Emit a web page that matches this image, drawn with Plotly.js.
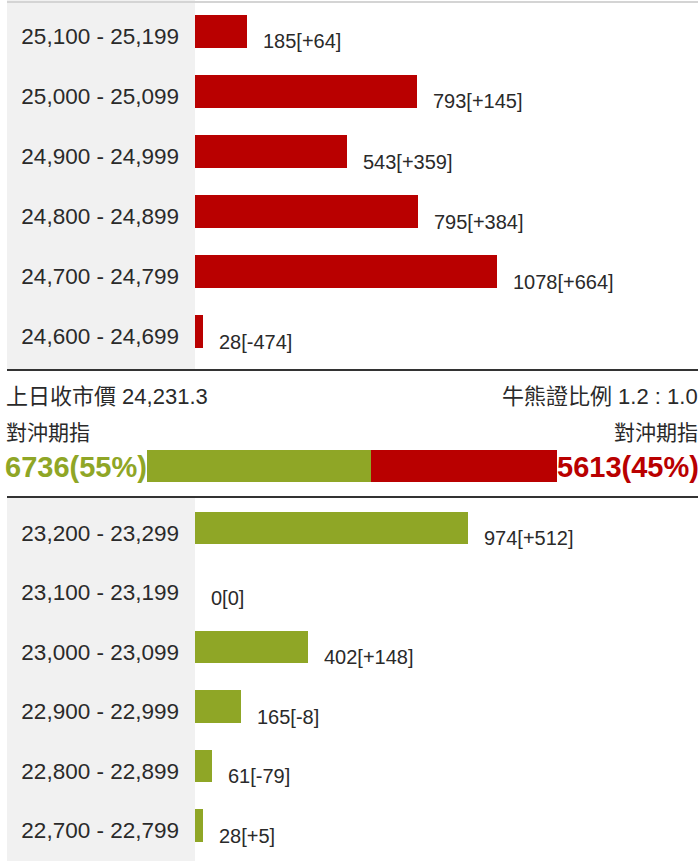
<!DOCTYPE html>
<html>
<head>
<meta charset="utf-8">
<script src="https://cdn.plot.ly/plotly-3.0.1.min.js"></script>
<style>html,body{margin:0;padding:0;background:#fff;}#chart{width:698px;height:861px;}</style>
</head>
<body>
<div id="chart"></div>
<script>
// ---- data ----
const topRanges = ['25,100 - 25,199','25,000 - 25,099','24,900 - 24,999','24,800 - 24,899','24,700 - 24,799','24,600 - 24,699'];
const topValues = [185, 793, 543, 795, 1078, 28];
const topChanges = [64, 145, 359, 384, 664, -474];

const bottomRanges = ['23,200 - 23,299','23,100 - 23,199','23,000 - 23,099','22,900 - 22,999','22,800 - 22,899','22,700 - 22,799'];
const bottomValues = [974, 0, 402, 165, 61, 28];
const bottomChanges = [512, 0, 148, -8, -79, 5];

const prevCloseLabel = '上日收市價';
const prevClose = '24,231.3';
const ratioLabel = '牛熊證比例';
const ratio = '1.2 : 1.0';
const hedgeLabel = '對沖期指';
const hedgeBull = [6736];
const hedgeBear = [5613];

// ---- styles ----
const W = 698, H = 861;
const RED = '#b90000', GREEN = '#8fa626';
const FONT = 'Arial, "Liberation Sans", "Noto Sans CJK TC", sans-serif';
const TXT = '#2a2a2a';
const px = v => v / W;
const py = v => 1 - v / H;
const SCALE = 0.28; // px per unit
const barRangeMax = (W - 195) / SCALE;

function fmt(v, c) {
  const s = c > 0 ? '+' + c : String(c);
  return v + '[' + s + ']';
}

const traces = [
  {type:'bar', orientation:'h', x: topValues, y: topRanges, xaxis:'x', yaxis:'y',
   marker:{color: RED}, width: 0.55, hoverinfo:'none'},
  {type:'bar', orientation:'h', x: bottomValues, y: bottomRanges, xaxis:'x2', yaxis:'y2',
   marker:{color: GREEN}, width: 0.55, hoverinfo:'none'},
  {type:'bar', orientation:'h', x: hedgeBull, y: [hedgeLabel], xaxis:'x3', yaxis:'y3',
   marker:{color: GREEN}, width: 1, hoverinfo:'none'},
  {type:'bar', orientation:'h', x: hedgeBear, y: [hedgeLabel], xaxis:'x3', yaxis:'y3',
   marker:{color: RED}, width: 1, hoverinfo:'none'}
];

const annotations = [];
topValues.forEach((v, i) => annotations.push({
  xref:'x', yref:'y', x: v, y: topRanges[i], text: fmt(v, topChanges[i]),
  showarrow:false, xanchor:'left', yanchor:'middle', xshift: 14, yshift: -10,
  font:{family: FONT, size: 20, color: TXT}
}));
bottomValues.forEach((v, i) => annotations.push({
  xref:'x2', yref:'y2', x: v, y: bottomRanges[i], text: fmt(v, bottomChanges[i]),
  showarrow:false, xanchor:'left', yanchor:'middle', xshift: 14, yshift: -10,
  font:{family: FONT, size: 20, color: TXT}
}));

const total = hedgeBull[0] + hedgeBear[0];
const pctBull = Math.round(hedgeBull[0] / total * 100);
const pctBear = 100 - pctBull;

annotations.push(
  {xref:'paper', yref:'paper', x: px(4), y: py(396), xanchor:'left', yanchor:'middle', showarrow:false,
   text: prevCloseLabel + ' ' + prevClose, font:{family: FONT, size: 22, color: TXT}},
  {xref:'paper', yref:'paper', x: px(700), y: py(396), xanchor:'right', yanchor:'middle', showarrow:false,
   text: ratioLabel + ' ' + ratio, font:{family: FONT, size: 22, color: TXT}},
  {xref:'paper', yref:'paper', x: px(4), y: py(432), xanchor:'left', yanchor:'middle', showarrow:false,
   text: hedgeLabel, font:{family: FONT, size: 21, color: TXT}},
  {xref:'paper', yref:'paper', x: px(700), y: py(432), xanchor:'right', yanchor:'middle', showarrow:false,
   text: hedgeLabel, font:{family: FONT, size: 21, color: TXT}},
  {xref:'x3', yref:'paper', x: 0, y: py(467), xanchor:'right', yanchor:'middle', showarrow:false, xshift: 2,
   text: '<b>' + hedgeBull[0] + '(' + pctBull + '%)</b>', font:{family: FONT, size: 29, color: GREEN}},
  {xref:'x3', yref:'paper', x: total, y: py(467), xanchor:'left', yanchor:'middle', showarrow:false, xshift: -2,
   text: '<b>' + hedgeBear[0] + '(' + pctBear + '%)</b>', font:{family: FONT, size: 29, color: RED}}
);

const shapes = [
  {type:'rect', xref:'paper', yref:'paper', x0: px(7), x1: px(195), y0: py(369), y1: py(0),
   fillcolor:'#f1f1f1', line:{width:0}, layer:'below'},
  {type:'rect', xref:'paper', yref:'paper', x0: px(7), x1: px(195), y0: py(861), y1: py(498),
   fillcolor:'#f1f1f1', line:{width:0}, layer:'below'},
  {type:'line', xref:'paper', yref:'paper', x0: px(7), x1: px(698), y0: py(2), y1: py(2),
   line:{color:'#d4d4d4', width:2}},
  {type:'line', xref:'paper', yref:'paper', x0: px(7), x1: px(698), y0: py(370), y1: py(370),
   line:{color:'#333333', width:2}},
  {type:'line', xref:'paper', yref:'paper', x0: px(7), x1: px(698), y0: py(497), y1: py(497),
   line:{color:'#333333', width:2}}
];

const hiddenX = {showgrid:false, zeroline:false, showline:false, showticklabels:false, ticks:'', fixedrange:true};
const catY = {showgrid:false, zeroline:false, showline:false, ticks:'', fixedrange:true,
  tickfont:{family: FONT, size: 22.5, color: TXT}, ticklabelstandoff: 15, ticklabelshift: -5};

const layout = {
  width: W, height: H,
  margin:{l:0, r:0, t:0, b:0, pad:0},
  paper_bgcolor:'#ffffff', plot_bgcolor:'rgba(0,0,0,0)',
  showlegend:false, barmode:'stack', bargap:0,
  font:{family: FONT, color: TXT},
  xaxis: Object.assign({}, hiddenX, {domain:[px(195), 1], range:[0, barRangeMax], anchor:'y'}),
  yaxis: Object.assign({}, catY, {domain:[py(361.5), py(1.5)], type:'category',
    categoryorder:'array', categoryarray: topRanges, range:[5.5, -0.5], anchor:'x'}),
  xaxis2: Object.assign({}, hiddenX, {domain:[px(195), 1], range:[0, barRangeMax], anchor:'y2'}),
  yaxis2: Object.assign({}, catY, {domain:[py(855.25), py(498.25)], type:'category',
    categoryorder:'array', categoryarray: bottomRanges, range:[5.5, -0.5], anchor:'x2'}),
  xaxis3: Object.assign({}, hiddenX, {domain:[px(147), px(557)], range:[0, total], anchor:'y3'}),
  yaxis3: {domain:[py(482), py(450)], range:[-0.5, 0.5], showgrid:false, zeroline:false,
    showline:false, showticklabels:false, ticks:'', anchor:'x3', type:'category', fixedrange:true},
  annotations: annotations,
  shapes: shapes
};

Plotly.newPlot('chart', traces, layout, {displayModeBar:false, staticPlot:true});
</script>
</body>
</html>
